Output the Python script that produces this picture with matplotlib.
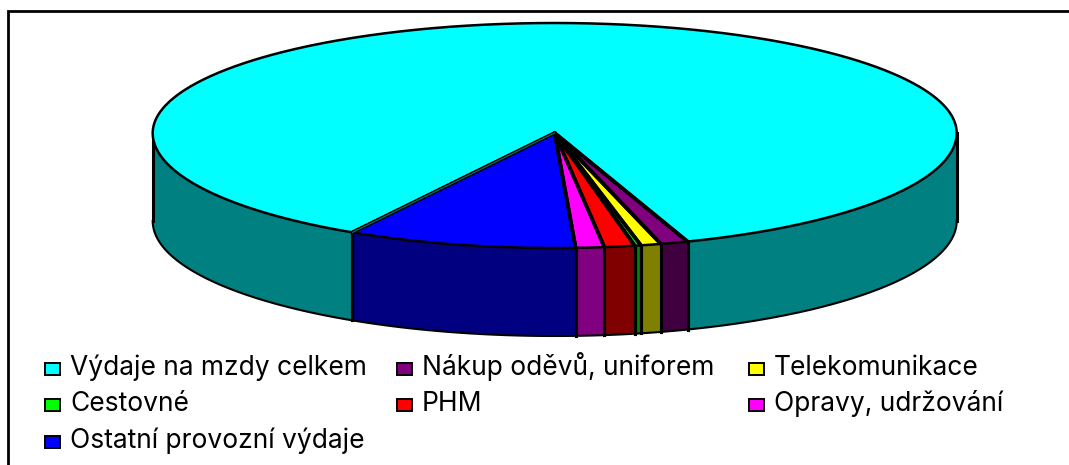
"""
Flat 3D style pie of expenses, drawn by hand because matplotlib has no tilted pie.
"""

import numpy as np
import matplotlib

matplotlib.use("Agg")
import matplotlib.pyplot as plt
from matplotlib.patches import Polygon, Rectangle

labels = [
    "Výdaje na mzdy celkem",
    "Nákup oděvů, uniforem",
    "Telekomunikace",
    "Cestovné",
    "PHM",
    "Opravy, udržování",
    "Ostatní provozní výdaje",
]
values = [86.25, 1.11, 0.81, 0.25, 1.22, 1.14, 9.22]
top_colors = ["#00FFFF", "#800080", "#FFFF00", "#00FF00", "#FF0000", "#FF00FF", "#0000FF"]
side_colors = ["#008080", "#400040", "#808000", "#008000", "#800000", "#800080", "#000080"]

WIDTH, HEIGHT = 1069, 465
CX, CY = 554.7, 133
RX, RY_BACK, RY_FRONT = 402, 110, 115
DEPTH = 88
START = 120.2  # degrees, clockwise on screen

plt.rcParams["font.family"] = ["Inter", "DejaVu Sans"]
fig = plt.figure(figsize=(WIDTH / 100, HEIGHT / 100), dpi=100)
ax = fig.add_axes([0, 0, 1, 1])
ax.set_xlim(0, WIDTH)
ax.set_ylim(HEIGHT, 0)
ax.axis("off")

# the chart frame only shows on the top and on the left
ax.plot([8, 8, WIDTH], [HEIGHT, 11, 11], color="black", lw=2.0, zorder=1, solid_joinstyle="miter")


def rim(t0, t1, dy=0):
    t = np.radians(np.linspace(t0, t1, max(int(abs(t1 - t0) * 2), 2)))
    s = np.sin(t)
    return np.column_stack([CX + RX * np.cos(t), CY + np.where(s > 0, RY_FRONT, RY_BACK) * s + dy])


def side(t0, t1, color):
    # only the part of the wall facing the viewer (0-180 degrees on screen)
    for a, b in [(t0, t1), (t0 - 360, t1 - 360)]:
        lo, hi = max(a, 0), min(b, 180)
        if lo >= hi:
            continue
        upper, lower = rim(lo, hi), rim(lo, hi, DEPTH)
        ax.add_patch(Polygon(np.vstack([upper, lower[::-1]]), closed=True, fc=color, ec="none", zorder=2))
        ax.plot(lower[:, 0], lower[:, 1], color="black", lw=1.5, zorder=2.5)
        for p, q in [(upper[0], lower[0]), (upper[-1], lower[-1])]:
            ax.plot([p[0], q[0]], [p[1], q[1]], color="black", lw=2.2, zorder=2.5)


angles = START + np.cumsum([0] + values) / sum(values) * 360
for i in range(len(values)):
    side(angles[i], angles[i + 1], side_colors[i])

for i in range(len(values)):
    outer = rim(angles[i], angles[i + 1])
    ax.add_patch(Polygon(np.vstack([[CX, CY], outer]), closed=True, fc=top_colors[i], ec="none", zorder=3))
    ax.plot(outer[:, 0], outer[:, 1], color="black", lw=1.8, zorder=3.5)
    for p in (outer[0], outer[-1]):
        ax.plot([CX, p[0]], [CY, p[1]], color="black", lw=2.6, zorder=3.6, solid_capstyle="round")

# thin teal sliver on the edge between the big slice and the blue one
edge = rim(START, START + 0.01)[0]
ax.plot([CX, edge[0]], [CY, edge[1]], color="#008080", lw=0.7, zorder=4)

col_x = [45, 397, 749]
row_y = [368.5, 405, 442]
for i, label in enumerate(labels):
    x, y = col_x[i % 3], row_y[i // 3]
    ax.add_patch(Rectangle((x, y - 6), 15, 12, fc=top_colors[i], ec="black", lw=1.4, zorder=3))
    ax.text(x + 25, y + 6, label, fontsize=19, va="baseline", ha="left", color="black")

fig.savefig("out.png", dpi=100)
